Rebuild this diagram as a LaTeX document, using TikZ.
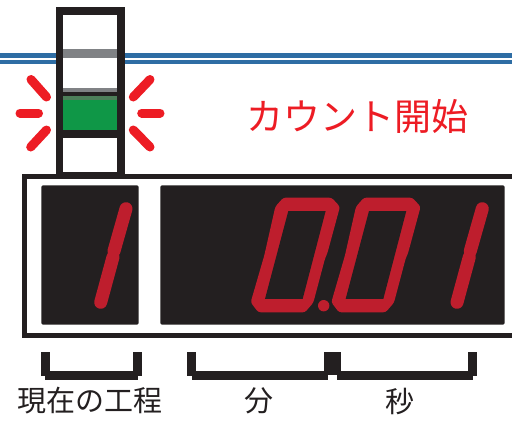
\documentclass[tikz,border=0pt]{standalone}
\usepackage{fontspec}
\newfontfamily\jpfont{Noto Sans CJK JP}
\definecolor{ink}{HTML}{231F20}
\definecolor{seg}{HTML}{BE1E2D}
\definecolor{ray}{HTML}{ED1C24}
\definecolor{rail}{HTML}{2E6DA4}
\definecolor{band}{HTML}{808285}
\definecolor{lamp}{HTML}{0F9747}
\definecolor{lampdark}{HTML}{4D7F5A}
\tikzset{
  rayline/.style={draw=ray,line width=9pt,line cap=round},
  panel/.style={fill=ink,rounded corners=1.5pt},
  segline/.style={draw=seg,line width=13pt,line cap=round},
  zoomed/.style={shift={(150,170)},x=0.3333pt,y=-0.3333pt},
  jplabel/.style={text=ink,font=\jpfont\fontsize{29}{29}\selectfont,inner sep=0pt},
}
\newcommand{\zerodigit}[1]{%
  \begin{scope}[zoomed,xshift=#1*0.3333pt]
    \fill[seg,rounded corners=2.5pt] (400,83) -- (545,83) -- (570,110) -- (532,250) -- (525,266) -- (490,398) -- (465,427) -- (325,427) -- (302,397) -- (343,256) -- (376,110) -- cycle;
    \fill[ink] (415,123) -- (527,123) -- (458,387) -- (345,387) -- cycle;
  \end{scope}}
\begin{document}
\begin{tikzpicture}[x=1pt,y=-1pt]
\useasboundingbox (0,0) rectangle (512,421);
\clip (0,0) rectangle (512,421);
\fill[white] (0,0) rectangle (512,421);
% rails
\fill[rail] (0,53.3) rectangle (512,57.7);
\fill[rail] (0,60) rectangle (512,63.7);
% tower
\fill[ink] (55.7,6.7) rectangle (124.7,178);
\fill[white] (63.3,14.7) rectangle (116.7,88);
\fill[band] (63.3,49.3) rectangle (116.7,57.7);
\fill[band] (63.3,88) rectangle (116.7,91.7);
\fill[lamp] (63.3,96) rectangle (116.7,130.3);
\fill[lampdark] (63.3,96) rectangle (116.7,99.7);
\fill[white] (63.3,138) rectangle (116.7,172);
% rays
\draw[rayline] (31,79.5) -- (46.5,97);
\draw[rayline] (20,113) -- (38.5,113);
\draw[rayline] (46.5,130) -- (30.7,147);
\draw[rayline] (150,79.5) -- (133.3,97);
\draw[rayline] (141.7,113) -- (160,113);
\draw[rayline] (133.3,130) -- (150,147);
% main frame
\draw[ink,line width=5pt,fill=white] (24.8,176.5) rectangle (530,335.6);
\fill[panel] (41.3,185.3) rectangle (138.7,324.7);
\fill[panel] (160.3,185.3) rectangle (504.7,324.7);
% digit 1, first panel
\draw[segline] (126,208.7) -- (114,251);
\draw[segline] (113,257) -- (100.7,302.3);
% 0.01
\zerodigit{0}
\zerodigit{242}
\fill[seg] (323.7,305.7) circle (5.7);
\draw[segline] (482.3,208.7) -- (470.3,251);
\draw[segline] (469.3,257) -- (457,302.3);
% brackets
\fill[ink] (41.3,352) rectangle (50,376);
\fill[ink] (133.3,352) rectangle (142.3,376);
\fill[ink] (45.3,371) rectangle (138,380);
\fill[ink] (187.3,352) rectangle (196.3,376);
\fill[ink] (191.7,371) rectangle (328.3,380);
\fill[ink] (324.3,352) rectangle (341.3,375);
\fill[ink] (336.7,371) rectangle (473.3,380);
\fill[ink] (468.3,352) rectangle (477.3,376);
% labels
\node[jplabel] (step) at (90,401) {現在の工程};
\node[jplabel] (min) at (259,401) {分};
\node[jplabel] (sec) at (400,401) {秒};
\node[text=ray,font=\jpfont\fontsize{37}{37}\selectfont,inner sep=0pt] (start) at (357.5,116) {カウント開始};
\end{tikzpicture}
\end{document}
